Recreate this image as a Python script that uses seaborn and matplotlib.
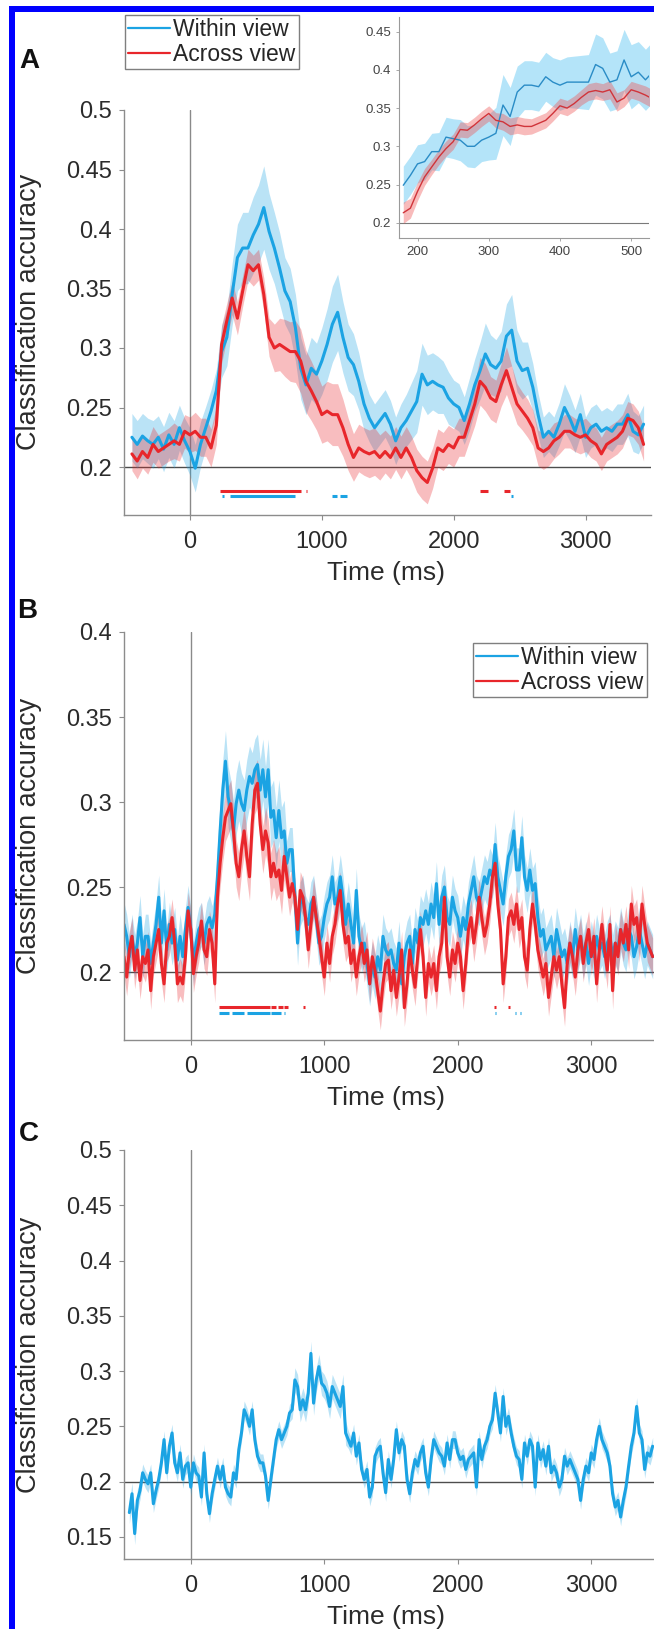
import numpy as np
import matplotlib
matplotlib.use('Agg')
import matplotlib.pyplot as plt
import seaborn as sns
from matplotlib.patches import Rectangle
from matplotlib.lines import Line2D

sns.set_style('ticks')
plt.rcParams['font.family'] = ['Liberation Sans', 'DejaVu Sans']

# ---------------------------------------------------------------
# data
# panel A : 40 ms steps
t_a = np.arange(-440, 3441, 40)
a_within = [0.225, 0.219, 0.226, 0.222, 0.219, 0.225, 0.215, 0.227, 0.219, 0.233,
            0.222, 0.213, 0.199, 0.219, 0.233, 0.247, 0.264, 0.297, 0.309, 0.345,
            0.376, 0.384, 0.384, 0.395, 0.404, 0.418, 0.398, 0.384, 0.367, 0.348,
            0.339, 0.317, 0.283, 0.269, 0.283, 0.278, 0.289, 0.303, 0.320, 0.330,
            0.309, 0.292, 0.286, 0.272, 0.253, 0.241, 0.233, 0.239, 0.245, 0.236,
            0.222, 0.233, 0.239, 0.247, 0.255, 0.278, 0.269, 0.272, 0.269, 0.267,
            0.258, 0.253, 0.250, 0.239, 0.253, 0.269, 0.281, 0.295, 0.286, 0.283,
            0.289, 0.310, 0.315, 0.289, 0.281, 0.283, 0.267, 0.244, 0.225, 0.230,
            0.225, 0.236, 0.250, 0.241, 0.230, 0.244, 0.225, 0.233, 0.236, 0.230,
            0.233, 0.230, 0.236, 0.236, 0.244, 0.230, 0.227, 0.236]
a_within_se = [0.020, 0.020, 0.019, 0.019, 0.020, 0.018, 0.019, 0.019, 0.020, 0.019,
               0.019, 0.020, 0.020, 0.019, 0.018, 0.018, 0.018, 0.022, 0.024, 0.026,
               0.028, 0.030, 0.030, 0.032, 0.033, 0.035, 0.032, 0.030, 0.030, 0.028,
               0.028, 0.028, 0.026, 0.025, 0.026, 0.026, 0.028, 0.030, 0.032, 0.032,
               0.030, 0.028, 0.026, 0.024, 0.022, 0.020, 0.020, 0.020, 0.020, 0.020,
               0.020, 0.020, 0.022, 0.024, 0.026, 0.026, 0.025, 0.024, 0.024, 0.022,
               0.022, 0.020, 0.020, 0.020, 0.022, 0.022, 0.024, 0.026, 0.025, 0.024,
               0.025, 0.027, 0.030, 0.026, 0.024, 0.022, 0.020, 0.018, 0.017, 0.017,
               0.017, 0.018, 0.020, 0.019, 0.018, 0.018, 0.017, 0.017, 0.017, 0.017,
               0.017, 0.017, 0.017, 0.017, 0.018, 0.017, 0.016, 0.016]
a_across = [0.211, 0.205, 0.213, 0.208, 0.219, 0.213, 0.216, 0.219, 0.222, 0.219,
            0.230, 0.227, 0.230, 0.225, 0.225, 0.216, 0.235, 0.303, 0.323, 0.342,
            0.325, 0.348, 0.370, 0.365, 0.370, 0.345, 0.309, 0.300, 0.303, 0.300,
            0.297, 0.297, 0.289, 0.272, 0.264, 0.255, 0.244, 0.247, 0.244, 0.244,
            0.233, 0.219, 0.208, 0.216, 0.213, 0.211, 0.213, 0.208, 0.213, 0.208,
            0.216, 0.208, 0.216, 0.208, 0.197, 0.191, 0.187, 0.199, 0.216, 0.213,
            0.219, 0.216, 0.225, 0.225, 0.239, 0.253, 0.272, 0.267, 0.258, 0.255,
            0.269, 0.281, 0.267, 0.253, 0.247, 0.241, 0.233, 0.216, 0.213, 0.216,
            0.222, 0.225, 0.230, 0.230, 0.227, 0.225, 0.227, 0.222, 0.219, 0.211,
            0.219, 0.222, 0.225, 0.230, 0.241, 0.239, 0.233, 0.219]
a_across_se = [0.014, 0.015, 0.014, 0.014, 0.015, 0.014, 0.014, 0.014, 0.015, 0.014,
               0.014, 0.015, 0.016, 0.016, 0.016, 0.016, 0.016, 0.016, 0.015, 0.014,
               0.014, 0.013, 0.013, 0.013, 0.013, 0.014, 0.016, 0.020, 0.022, 0.024,
               0.025, 0.026, 0.027, 0.026, 0.025, 0.024, 0.024, 0.025, 0.026, 0.026,
               0.024, 0.022, 0.020, 0.020, 0.020, 0.020, 0.020, 0.019, 0.018, 0.018,
               0.018, 0.018, 0.018, 0.018, 0.018, 0.018, 0.018, 0.017, 0.016, 0.016,
               0.016, 0.016, 0.016, 0.016, 0.017, 0.018, 0.020, 0.020, 0.018, 0.018,
               0.018, 0.020, 0.018, 0.017, 0.016, 0.016, 0.015, 0.015, 0.015, 0.015,
               0.015, 0.014, 0.014, 0.014, 0.014, 0.014, 0.014, 0.014, 0.014, 0.014,
               0.014, 0.014, 0.014, 0.014, 0.014, 0.014, 0.014, 0.014]
# significant time windows (ms)
a_sig_across = [(225, 845), (878, 888), (2196, 2258), (2384, 2427)]
a_sig_within = [(245, 258), (300, 795), (1075, 1112), (1140, 1190), (2436, 2446)]

# inset of panel A : 10 ms steps
t_in = np.arange(180, 531, 10)
in_within = [0.249, 0.262, 0.277, 0.280, 0.293, 0.293, 0.312, 0.310, 0.308, 0.300,
             0.300, 0.308, 0.312, 0.317, 0.354, 0.339, 0.371, 0.380, 0.380, 0.378,
             0.391, 0.384, 0.380, 0.384, 0.384, 0.384, 0.384, 0.407, 0.402, 0.384,
             0.387, 0.413, 0.391, 0.397, 0.387, 0.397]
in_within_se = [0.025, 0.025, 0.025, 0.024, 0.024, 0.025, 0.026, 0.026, 0.027, 0.027,
                0.028, 0.028, 0.030, 0.034, 0.040, 0.038, 0.034, 0.032, 0.032, 0.032,
                0.032, 0.032, 0.033, 0.033, 0.034, 0.035, 0.036, 0.040, 0.040, 0.038,
                0.038, 0.040, 0.042, 0.040, 0.040, 0.040]
in_across = [0.213, 0.219, 0.241, 0.260, 0.273, 0.286, 0.297, 0.306, 0.322, 0.321,
             0.328, 0.336, 0.343, 0.334, 0.332, 0.326, 0.328, 0.326, 0.326, 0.330,
             0.334, 0.343, 0.353, 0.350, 0.356, 0.364, 0.371, 0.373, 0.371, 0.374,
             0.358, 0.363, 0.374, 0.371, 0.367, 0.362]
in_across_se = [0.014, 0.013, 0.012, 0.011, 0.010, 0.010, 0.010, 0.010, 0.010, 0.010,
                0.010, 0.010, 0.010, 0.010, 0.011, 0.011, 0.011, 0.011, 0.010, 0.010,
                0.010, 0.010, 0.010, 0.010, 0.010, 0.010, 0.011, 0.011, 0.011, 0.012,
                0.012, 0.011, 0.011, 0.011, 0.012, 0.012]

# panel B : 20 ms steps
t_b = np.arange(-500, 3461, 20)
b_within = [0.228, 0.221, 0.209, 0.221, 0.209, 0.217, 0.232, 0.209, 0.221, 0.221,
            0.205, 0.217, 0.228, 0.244, 0.217, 0.236, 0.213, 0.228, 0.217, 0.225,
            0.207, 0.221, 0.209, 0.225, 0.238, 0.225, 0.205, 0.217, 0.225, 0.228,
            0.217, 0.228, 0.232, 0.226, 0.234, 0.256, 0.283, 0.307, 0.324, 0.303,
            0.295, 0.283, 0.299, 0.307, 0.299, 0.295, 0.307, 0.315, 0.311, 0.319,
            0.322, 0.307, 0.319, 0.303, 0.319, 0.291, 0.295, 0.279, 0.295, 0.279,
            0.283, 0.264, 0.272, 0.272, 0.244, 0.217, 0.240, 0.244, 0.232, 0.228,
            0.240, 0.244, 0.232, 0.217, 0.221, 0.232, 0.240, 0.244, 0.256, 0.240,
            0.244, 0.256, 0.244, 0.228, 0.240, 0.228, 0.217, 0.248, 0.221, 0.213,
            0.217, 0.205, 0.193, 0.205, 0.197, 0.209, 0.201, 0.221, 0.213, 0.210,
            0.213, 0.205, 0.201, 0.217, 0.193, 0.209, 0.217, 0.221, 0.205, 0.225,
            0.217, 0.232, 0.228, 0.236, 0.228, 0.240, 0.232, 0.252, 0.228, 0.244,
            0.250, 0.232, 0.228, 0.244, 0.236, 0.232, 0.221, 0.232, 0.225, 0.240,
            0.248, 0.256, 0.244, 0.240, 0.248, 0.256, 0.252, 0.260, 0.256, 0.275,
            0.256, 0.248, 0.240, 0.256, 0.268, 0.272, 0.283, 0.260, 0.260, 0.279,
            0.256, 0.248, 0.260, 0.248, 0.252, 0.232, 0.221, 0.225, 0.213, 0.217,
            0.221, 0.209, 0.225, 0.217, 0.209, 0.213, 0.205, 0.217, 0.209, 0.225,
            0.213, 0.221, 0.209, 0.217, 0.205, 0.217, 0.209, 0.221, 0.213, 0.217,
            0.209, 0.217, 0.221, 0.209, 0.217, 0.213, 0.225, 0.217, 0.213, 0.225,
            0.221, 0.209, 0.215, 0.225, 0.217, 0.209, 0.217, 0.213, 0.209]
b_across = [0.209, 0.197, 0.213, 0.221, 0.201, 0.213, 0.195, 0.209, 0.205, 0.213,
            0.189, 0.209, 0.217, 0.225, 0.205, 0.193, 0.217, 0.221, 0.232, 0.217,
            0.193, 0.197, 0.193, 0.209, 0.236, 0.225, 0.199, 0.209, 0.217, 0.230,
            0.213, 0.209, 0.225, 0.217, 0.193, 0.244, 0.264, 0.279, 0.291, 0.295,
            0.299, 0.283, 0.264, 0.256, 0.272, 0.283, 0.268, 0.256, 0.287, 0.307,
            0.311, 0.287, 0.272, 0.283, 0.276, 0.256, 0.264, 0.256, 0.260, 0.248,
            0.268, 0.256, 0.244, 0.252, 0.244, 0.225, 0.248, 0.244, 0.232, 0.213,
            0.228, 0.244, 0.232, 0.221, 0.209, 0.197, 0.217, 0.205, 0.221, 0.228,
            0.240, 0.248, 0.228, 0.217, 0.221, 0.205, 0.213, 0.197, 0.209, 0.217,
            0.205, 0.213, 0.193, 0.209, 0.201, 0.189, 0.177, 0.193, 0.205, 0.207,
            0.189, 0.201, 0.185, 0.197, 0.213, 0.179, 0.193, 0.213, 0.201, 0.191,
            0.209, 0.225, 0.209, 0.185, 0.205, 0.197, 0.205, 0.189, 0.209, 0.217,
            0.244, 0.209, 0.197, 0.213, 0.205, 0.217, 0.209, 0.189, 0.205, 0.225,
            0.232, 0.217, 0.228, 0.244, 0.232, 0.221, 0.228, 0.240, 0.256, 0.264,
            0.240, 0.225, 0.193, 0.209, 0.232, 0.236, 0.228, 0.240, 0.225, 0.232,
            0.209, 0.201, 0.225, 0.240, 0.228, 0.213, 0.205, 0.197, 0.205, 0.185,
            0.197, 0.209, 0.201, 0.209, 0.193, 0.179, 0.205, 0.217, 0.209, 0.197,
            0.213, 0.221, 0.205, 0.217, 0.225, 0.209, 0.221, 0.193, 0.213, 0.228,
            0.213, 0.201, 0.228, 0.189, 0.217, 0.209, 0.225, 0.217, 0.228, 0.213,
            0.240, 0.228, 0.232, 0.217, 0.240, 0.228, 0.217, 0.213, 0.209]
b_within_se = [0.013] * 35 + [0.018] * 26 + [0.013] * 138
b_across_se = [0.011] * 35 + [0.014] * 26 + [0.011] * 138
b_sig_across = [(210, 590), (600, 640), (650, 690), (700, 730), (840, 855),
                (2275, 2290), (2375, 2390)]
b_sig_within = [(210, 290), (310, 400), (425, 590), (600, 675), (695, 705),
                (2280, 2286), (2430, 2436), (2470, 2476)]

# panel C : 20 ms steps
t_c = np.arange(-460, 3461, 20)
c_within = [0.172, 0.189, 0.153, 0.183, 0.192, 0.208, 0.202, 0.198, 0.208, 0.180,
            0.192, 0.202, 0.217, 0.238, 0.208, 0.232, 0.244, 0.217, 0.208, 0.226,
            0.202, 0.214, 0.217, 0.195, 0.217, 0.208, 0.205, 0.186, 0.226, 0.189,
            0.171, 0.189, 0.202, 0.214, 0.202, 0.214, 0.195, 0.189, 0.186, 0.208,
            0.202, 0.229, 0.244, 0.265, 0.259, 0.250, 0.265, 0.238, 0.223, 0.217,
            0.217, 0.205, 0.183, 0.202, 0.220, 0.238, 0.247, 0.238, 0.244, 0.250,
            0.262, 0.265, 0.292, 0.286, 0.265, 0.274, 0.265, 0.280, 0.316, 0.271,
            0.292, 0.304, 0.289, 0.286, 0.280, 0.268, 0.286, 0.280, 0.274, 0.268,
            0.286, 0.244, 0.238, 0.232, 0.244, 0.223, 0.235, 0.211, 0.202, 0.211,
            0.186, 0.195, 0.223, 0.229, 0.232, 0.208, 0.190, 0.220, 0.202, 0.220,
            0.247, 0.226, 0.238, 0.232, 0.202, 0.189, 0.208, 0.220, 0.214, 0.226,
            0.232, 0.208, 0.195, 0.220, 0.238, 0.232, 0.226, 0.223, 0.214, 0.235,
            0.220, 0.238, 0.238, 0.226, 0.220, 0.223, 0.211, 0.220, 0.223, 0.226,
            0.195, 0.238, 0.220, 0.232, 0.238, 0.250, 0.256, 0.280, 0.262, 0.244,
            0.277, 0.250, 0.259, 0.244, 0.232, 0.223, 0.220, 0.202, 0.235, 0.223,
            0.238, 0.232, 0.195, 0.235, 0.220, 0.229, 0.214, 0.232, 0.208, 0.214,
            0.208, 0.195, 0.202, 0.223, 0.214, 0.220, 0.214, 0.208, 0.202, 0.183,
            0.202, 0.214, 0.208, 0.226, 0.220, 0.238, 0.250, 0.238, 0.232, 0.226,
            0.214, 0.189, 0.177, 0.183, 0.168, 0.183, 0.195, 0.214, 0.232, 0.244,
            0.268, 0.244, 0.238, 0.211, 0.226, 0.223, 0.232]
c_within_se = [0.010] * 4 + [0.008] * 58 + [0.011] * 20 + [0.008] * 115

labels = ['Within view', 'Across view']
x_ticks = [0, 1000, 2000, 3000]

# ---------------------------------------------------------------
WITHIN = '#1ba3e3'
ACROSS = '#e8262b'
TXT = '#2b2b2b'
W, H = 654, 1629

fig = plt.figure(figsize=(W / 100, H / 100), dpi=100)


def px_axes(left, top, right, bottom):
    return fig.add_axes([left / W, 1 - bottom / H, (right - left) / W, (bottom - top) / H])


def shaded(ax, t, y, se, color, lw, band_color=None, band_alpha=0.3):
    y = np.asarray(y)
    se = np.asarray(se)
    ax.fill_between(t, y - se, y + se, color=band_color or color, alpha=band_alpha, lw=0)
    sns.lineplot(x=t, y=y, color=color, linewidth=lw, ax=ax)


def style_main(ax, ylim, yticks, top_px, bottom_px):
    ax.set_xlim(-500, 3500)
    ax.set_ylim(*ylim)
    ax.axvline(0, color='#8a8a8a', lw=1, zorder=0)
    ax.axhline(0.2, color='#4d4d4d', lw=1, zorder=0)
    ax.set_xticks(x_ticks)
    ax.set_xticklabels([str(v) for v in x_ticks])
    ax.set_yticks(yticks)
    ax.set_yticklabels([('%g' % v) for v in yticks])
    sns.despine(ax=ax)
    for s in ['left', 'bottom']:
        ax.spines[s].set_color('#8c8c8c')
        ax.spines[s].set_linewidth(1)
    ax.tick_params(axis='both', labelsize=17, length=3.6, width=0.8,
                   color='#8c8c8c', labelcolor=TXT)
    ax.tick_params(axis='x', pad=8)
    ax.tick_params(axis='y', pad=5)
    ax.set_xlabel('Time (ms)', fontsize=19, color=TXT)
    ax.set_ylabel('Classification accuracy', fontsize=19.5, color=TXT)
    ax.xaxis.set_label_coords(386 / W, 1 - (bottom_px + 46) / H, transform=fig.transFigure)
    ax.yaxis.set_label_coords(42 / W, 1 - (top_px + bottom_px) / 2 / H, transform=fig.transFigure)


def sig_bars(ax, spans, y, color):
    ax.hlines([y] * len(spans), [s[0] for s in spans], [s[1] for s in spans],
              color=color, lw=2.2)


# ---------------- panel A ----------------
axA = px_axes(124, 110, 651.5, 514.6)
shaded(axA, t_a, a_within, a_within_se, WITHIN, 2.2)
shaded(axA, t_a, a_across, a_across_se, ACROSS, 2.2)
sig_bars(axA, a_sig_across, 0.1800, ACROSS)
sig_bars(axA, a_sig_within, 0.1757, WITHIN)
style_main(axA, (0.16, 0.5), [0.2, 0.25, 0.3, 0.35, 0.4, 0.45, 0.5], 110, 514.6)

# inset
axI = px_axes(399, 16.7, 649, 238.3)
shaded(axI, t_in, in_within, in_within_se, '#2a8cc6', 1.0, band_color='#45bdf0', band_alpha=0.4)
shaded(axI, t_in, in_across, in_across_se, '#d0343a', 1.0, band_color='#ee5555', band_alpha=0.4)
axI.axhline(0.2, color='#7a7a7a', lw=0.8, zorder=0)
axI.set_xlim(174, 525)
axI.set_ylim(0.1796, 0.4696)
axI.set_xticks([200, 300, 400, 500])
axI.set_yticks([0.2, 0.25, 0.3, 0.35, 0.4, 0.45])
axI.set_yticklabels([('%g' % v) for v in [0.2, 0.25, 0.3, 0.35, 0.4, 0.45]])
sns.despine(ax=axI)
for s in ['left', 'bottom']:
    axI.spines[s].set_color('#9a9a9a')
    axI.spines[s].set_linewidth(0.8)
axI.tick_params(labelsize=9.5, length=2.5, width=0.6, color='#9a9a9a',
                labelcolor='#444444', pad=3)
axI.set_xlabel('')
axI.set_ylabel('')

# ---------------- panel B ----------------
axB = px_axes(124, 632, 658, 1040)
shaded(axB, t_b, b_within, b_within_se, WITHIN, 2.2)
shaded(axB, t_b, b_across, b_across_se, ACROSS, 2.2)
sig_bars(axB, b_sig_across, 0.1796, ACROSS)
sig_bars(axB, b_sig_within, 0.1758, WITHIN)
style_main(axB, (0.16, 0.4), [0.2, 0.25, 0.3, 0.35, 0.4], 632, 1040)

# ---------------- panel C ----------------
axC = px_axes(124, 1150, 658, 1559)
shaded(axC, t_c, c_within, c_within_se, WITHIN, 2.2)
style_main(axC, (0.13, 0.5), [0.15, 0.2, 0.25, 0.3, 0.35, 0.4, 0.45, 0.5], 1150, 1559)

# legends
handles = [Line2D([], [], color=WITHIN, lw=1.6), Line2D([], [], color=ACROSS, lw=1.6)]
leg_kw = dict(loc='upper left', fontsize=16.5, frameon=True, fancybox=False,
              edgecolor='#7f7f7f', framealpha=1, borderpad=0.15, labelspacing=0.05,
              handlelength=1.8, handletextpad=0.15, borderaxespad=0)
legA = fig.legend(handles, labels, bbox_to_anchor=(125 / W, 1 - 15 / H), **leg_kw)
legB = fig.legend(handles, labels, bbox_to_anchor=(473 / W, 1 - 643 / H), **leg_kw)
for lg in (legA, legB):
    lg.get_frame().set_linewidth(1.0)

# panel letters
fig.text(19 / W, 1 - 48 / H, 'A', fontsize=20, fontweight='bold', va='top', ha='left', color='#111111')
fig.text(17 / W, 1 - 598 / H, 'B', fontsize=20, fontweight='bold', va='top', ha='left', color='#111111')
fig.text(19 / W, 1 - 1121 / H, 'C', fontsize=20, fontweight='bold', va='top', ha='left', color='#111111')

# blue frame (left and top edges)
fig.add_artist(Rectangle((9 / W, 0), 6 / W, 1 - 6 / H, transform=fig.transFigure,
                         facecolor='#0000ff', edgecolor='none'))
fig.add_artist(Rectangle((9 / W, 1 - 12 / H), 1 - 9 / W, 6 / H, transform=fig.transFigure,
                         facecolor='#0000ff', edgecolor='none'))

fig.savefig('out.png', dpi=100)
